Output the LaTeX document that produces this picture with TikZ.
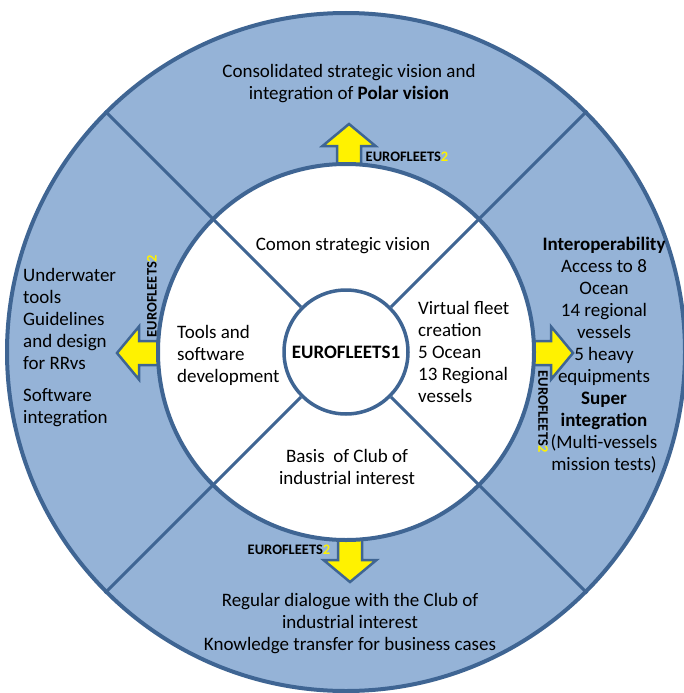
\documentclass[tikz,border=0pt]{standalone}
\usepackage{fontspec}
\setmainfont{Carlito}
\definecolor{ringblue}{RGB}{149,179,215}
\definecolor{edgeblue}{RGB}{63,101,147}
\tikzset{
	txt/.style={font=\fontsize{19}{22}\selectfont, inner sep=0pt},
	eflabel/.style={font=\fontsize{14.5}{14.5}\selectfont\bfseries, inner sep=0pt},
	yarrow/.style={draw=edgeblue, line width=2.5pt, fill=yellow, line join=miter},
	blockarrow/.pic={\path[yarrow] (-26,-12) -- (0,-12) -- (0,-26.5) -- (22,0) -- (0,26.5) -- (0,12) -- (-26,12) -- cycle;}
}
\newcommand{\efii}{EUROFLEETS\textcolor{yellow}{2}}
\begin{document}
\begin{tikzpicture}[x=1pt, y=-1pt]
	\useasboundingbox (0,0) rectangle (684,693);
	\node[circle, draw=edgeblue, line width=4pt, fill=ringblue, minimum size=678pt] (rim) at (346,352) {};
	% arrows out of the first project
	\pic (uparrow) [rotate=90] at (349,146) {blockarrow};
	\pic (leftarrow) [rotate=180] at (139,353) {blockarrow};
	\pic (rightarrow) at (551,353) {blockarrow};
	\pic (downarrow) [rotate=-90] at (350,560) {blockarrow};
	\node[circle, draw=edgeblue, line width=4pt, fill=white, minimum size=376pt] (hub) at (346,352) {};
	\node[circle, draw=edgeblue, line width=3.5pt, fill=white, minimum size=124pt, txt, font=\fontsize{19}{22}\selectfont\bfseries] (core) at (346,352) {EUROFLEETS1};
	\foreach \a in {45,135,225,315}
		\draw[edgeblue, line width=3pt] (core.\a) -- (rim.\a);
	% labels
	\node[eflabel] (uplabel) at (407,157) {\efii};
	\node[eflabel, rotate=90] (leftlabel) at (152,296) {\efii};
	\node[eflabel, rotate=-90] (rightlabel) at (543,412) {\efii};
	\node[eflabel] (downlabel) at (289,550) {\efii};
	% inner ring
	\node[txt] (innertop) at (343,246) {Comon strategic vision};
	\node[txt, align=left, anchor=west] (innerleft) at (177,355) {Tools and\\software\\development};
	\node[txt, align=left, anchor=west] (innerright) at (418,352) {Virtual fleet\\creation\\5 Ocean\\13 Regional\\vessels};
	\node[txt, align=center] (innerbottom) at (347,467) {Basis\ \ of Club of\\industrial interest};
	% outer ring
	\node[txt, align=center] (outertop) at (349,84) {Consolidated strategic vision and\\integration of \textbf{Polar vision}};
	\node[txt, align=left, anchor=west] (outerleft) at (23,348) {Underwater\\tools\\Guidelines\\and design\\for RRvs\\[10pt]Software\\integration};
	\node[txt, align=center] (outerright) at (604,355) {\textbf{Interoperability}\\Access to 8\\Ocean\\14 regional\\vessels\\5 heavy\\equipments\\\textbf{Super}\\\textbf{integration}\\(Multi-vessels\\mission tests)};
	\node[txt, align=center] (outerbottom) at (350,624) {Regular dialogue with the Club of\\industrial interest\\Knowledge transfer for business cases};
\end{tikzpicture}
\end{document}
